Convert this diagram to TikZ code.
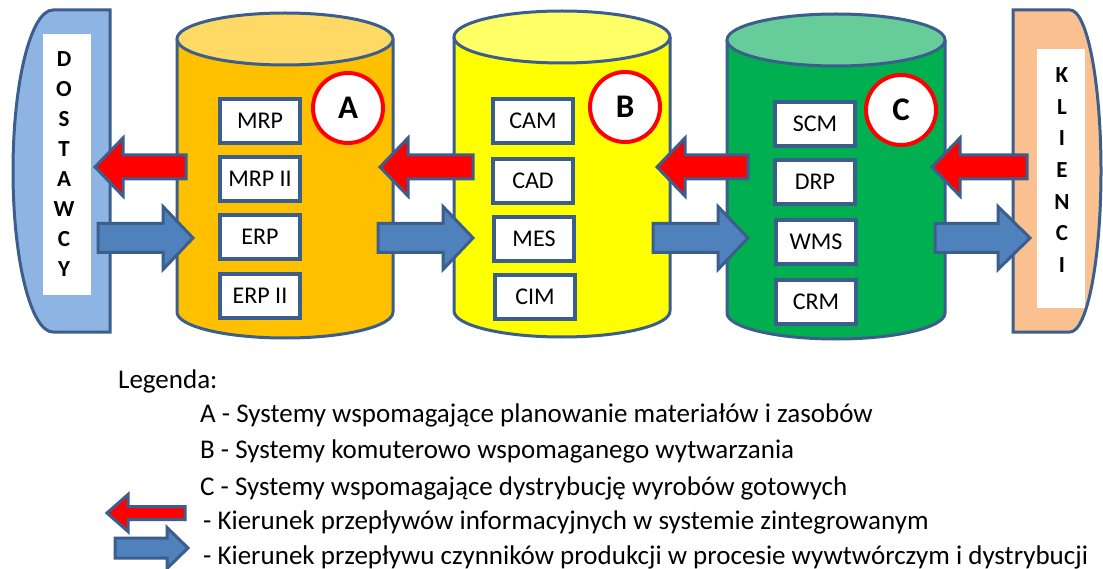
\documentclass[tikz,border=0pt]{standalone}
\usepackage{fontspec}
\setmainfont{Carlito}
\definecolor{edge}{HTML}{3B5E8C}
\definecolor{arrowblue}{HTML}{4F81BD}
\definecolor{supply}{HTML}{8EB4E3}
\definecolor{client}{HTML}{FAC090}
\definecolor{bodyA}{HTML}{FFC000}
\definecolor{topA}{HTML}{FFD966}
\definecolor{bodyB}{HTML}{FFFF00}
\definecolor{topB}{HTML}{FFFF66}
\definecolor{bodyC}{HTML}{00B050}
\definecolor{topC}{HTML}{66CC99}
\tikzset{
  sysbox/.style={draw=edge, line width=4pt, fill=white, minimum width=80pt, minimum height=44pt,
    inner sep=0pt, font=\fontsize{24}{24}\selectfont},
  tag/.style={circle, draw=red, line width=4pt, fill=white, minimum size=70pt, inner sep=0pt,
    font=\fontsize{33}{33}\selectfont\bfseries},
  infoarrow/.style={draw=edge, line width=3pt, fill=red, line join=miter},
  flowarrow/.style={draw=edge, line width=3pt, fill=arrowblue, line join=miter},
  outline/.style={draw=edge, line width=3pt},
  vword/.style={align=center, inner sep=0pt, font=\fontsize{23}{30}\selectfont\bfseries},
  legendtext/.style={anchor=base west, inner sep=0pt, font=\fontsize{27}{27}\selectfont},
}
% block arrow: style, tail x, head base x, tip x, y, shaft half-height, head half-height
\newcommand{\blockarrow}[7]{%
  \draw[#1] (#2,#5-#6) -- (#3,#5-#6) -- (#3,#5-#7) -- (#4,#5) -- (#3,#5+#7)
    -- (#3,#5+#6) -- (#2,#5+#6) -- cycle;}
% cylinder: name, centre x, radius x, top y, bottom y, radius y, body colour, top colour
\newcommand{\database}[8]{%
  \fill[#7] (#2-#3,#4) rectangle (#2+#3,#5);
  \fill[#7] (#2,#5) ellipse ({#3} and {#6});
  \draw[outline] (#2-#3,#4) -- (#2-#3,#5) arc[start angle=180, end angle=0, x radius=#3, y radius=#6]
    -- (#2+#3,#4);
  \draw[outline, fill=#8] (#2,#4) ellipse ({#3} and {#6});
  \coordinate (#1) at (#2,{(#4+#5)/2});}
\begin{document}
\begin{tikzpicture}[x=1pt, y=-1pt]
\useasboundingbox (0,0) rectangle (1103,569);

% suppliers
\draw[outline, fill=supply] (110,10) -- (53,10)
  arc[start angle=270, end angle=90, x radius=40, y radius=161] -- (110,332) -- cycle;
\fill[white] (43,34) rectangle (91,295);
\node[vword] (supp) at (64,164) {D\\O\\S\\T\\A\\W\\C\\Y};

% clients
\draw[outline, fill=client] (1013,10) -- (1070,10)
  arc[start angle=270, end angle=450, x radius=31, y radius=161] -- (1013,332) -- cycle;
\fill[white] (1037,49) rectangle (1085,308);
\node[vword, font=\fontsize{23}{31.7}\selectfont\bfseries] (cli) at (1062,170) {K\\L\\I\\E\\N\\C\\I};

% the three system groups
\database{cylA}{285}{108}{39}{312}{26}{bodyA}{topA}
\database{cylB}{562}{108}{37}{311}{26}{bodyB}{topB}
\database{cylC}{836}{109}{40}{313}{26}{bodyC}{topC}

\node[sysbox] (mrp)   at (260,121) {MRP};
\node[sysbox] (mrp2)  at (260,179) {MRP II};
\node[sysbox] (erp)   at (260,237) {ERP};
\node[sysbox] (erp2)  at (260,296) {ERP II};

\node[sysbox] (cam)   at (533,121) {CAM};
\node[sysbox] (cad)   at (533,181) {CAD};
\node[sysbox] (mes)   at (534,239) {MES};
\node[sysbox] (cim)   at (535,297) {CIM};

\node[sysbox] (scm)   at (815,124) {SCM};
\node[sysbox] (drp)   at (815,182) {DRP};
\node[sysbox] (wms)   at (816,242) {WMS};
\node[sysbox] (crm)   at (816,302) {CRM};

\node[tag] (tagA) at (348,108) {A};
\node[tag] (tagB) at (625,107) {B};
\node[tag] (tagC) at (901,110) {C};

% information flows (towards suppliers)
\blockarrow{infoarrow}{186}{123}{95}{167}{12}{29}
\blockarrow{infoarrow}{473}{408}{380}{167}{12}{29}
\blockarrow{infoarrow}{748}{685}{657}{167}{12}{29}
\blockarrow{infoarrow}{1027}{960}{932}{167}{12}{29}

% material flows (towards clients)
\blockarrow{flowarrow}{98}{163}{193}{238}{14.5}{31.5}
\blockarrow{flowarrow}{378}{443}{473}{238}{14.5}{31.5}
\blockarrow{flowarrow}{653}{718}{748}{238}{14.5}{31.5}
\blockarrow{flowarrow}{935}{998}{1030}{238}{14.5}{31.5}

% legend
\node[legendtext] (leg)  at (118,388) {Legenda:};
\node[legendtext] (legA) at (200,422) {A - Systemy wspomagające planowanie materiałów i zasobów};
\node[legendtext] (legB) at (200,458) {B - Systemy komuterowo wspomaganego wytwarzania};
\node[legendtext] (legC) at (200,495) {C - Systemy wspomagające dystrybucję wyrobów gotowych};
\node[legendtext] (legI) at (203,529) {- Kierunek przepływów informacyjnych w systemie zintegrowanym};
\node[legendtext] (legF) at (203,564) {- Kierunek przepływu czynników produkcji w procesie wywtwórczym i dystrybucji};
\blockarrow{infoarrow}{185}{128}{107}{513}{6.5}{18.5}
\blockarrow{flowarrow}{115}{167}{188}{548}{10}{20.5}
\end{tikzpicture}
\end{document}
